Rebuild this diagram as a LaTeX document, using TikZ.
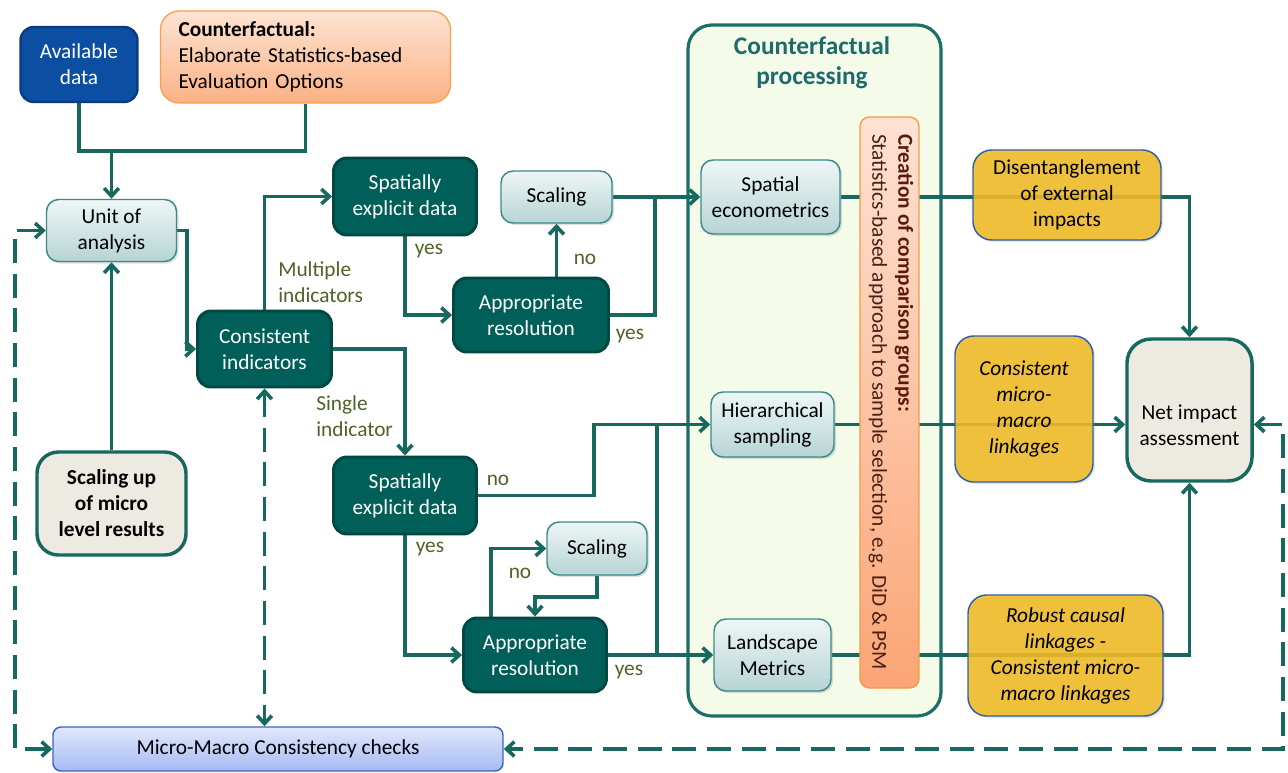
\documentclass[tikz,border=0pt]{standalone}
\usepackage{fontspec}
\setmainfont{Carlito}
\usetikzlibrary{arrows.meta,shadows,backgrounds}
\definecolor{conn}{HTML}{17685F}
\definecolor{dteal}{HTML}{005F59}
\definecolor{dteal2}{HTML}{004842}
\definecolor{availfill}{HTML}{0B4EA2}
\definecolor{availdraw}{HTML}{0A3A80}
\definecolor{cftop}{HTML}{FDE4D2}
\definecolor{cfbot}{HTML}{FBB185}
\definecolor{cfdraw}{HTML}{F7A150}
\definecolor{lttop}{HTML}{EEF6F6}
\definecolor{ltbot}{HTML}{B7D4D4}
\definecolor{ltdraw}{HTML}{3A8A8A}
\definecolor{contfill}{HTML}{F4FBE9}
\definecolor{contdraw}{HTML}{1C6E68}
\definecolor{ybg}{HTML}{EFBB24}
\definecolor{ydraw}{HTML}{2E5FA8}
\definecolor{netfill}{HTML}{EDEBE1}
\definecolor{mmtop}{HTML}{E1E8FC}
\definecolor{mmbot}{HTML}{A6BAF3}
\definecolor{mmdraw}{HTML}{3D63C2}
\definecolor{labgreen}{HTML}{4F6228}
\definecolor{titlecol}{HTML}{1F6B6B}
\definecolor{bartop}{HTML}{FDE2D4}
\definecolor{barbot}{HTML}{FBA575}
\definecolor{bardraw}{HTML}{F59A45}
\definecolor{barred}{HTML}{5B1A0C}
\definecolor{barbrown}{HTML}{4A2016}
\newcommand\myfs{\fontsize{16}{19.5}\selectfont}
\pgfdeclarelayer{bg}
\pgfdeclarelayer{wires}
\pgfsetlayers{bg,wires,main}
\begin{document}
\begin{tikzpicture}[x=0.75pt,y=-0.75pt,
  wh/.style 2 args={minimum width=#1*0.75pt, minimum height=#2*0.75pt},
  base/.style={rounded corners=9pt, inner sep=1pt, align=center, font=\myfs},
  darkbox/.style={base, fill=dteal, draw=dteal2, line width=2.2pt, text=white, rounded corners=10pt},
  lightbox/.style={base, top color=lttop, bottom color=ltbot, draw=ltdraw, line width=1.1pt,
     drop shadow={opacity=0.25, shadow xshift=1.5pt, shadow yshift=-1.5pt}},
  ybox/.style={base, fill=ybg, fill opacity=0.88, text opacity=1, draw=ydraw, line width=1.1pt, rounded corners=14pt,
     drop shadow={opacity=0.2, shadow xshift=1.5pt, shadow yshift=-1.5pt}},
  beigebox/.style={base, fill=netfill, draw=conn, line width=2.6pt, rounded corners=16pt},
  wire/.style={draw=conn, line width=2.7pt},
  conn/.style={wire, -{Straight Barb[length=6pt,width=11pt]}},
  dline/.style={wire, dash pattern=on 18pt off 8pt},
  lab/.style={text=labgreen, font=\myfs, inner sep=0pt, align=left}
]
\useasboundingbox (0,0) rectangle (1288,772);

% container
\begin{pgfonlayer}{bg}
\node[draw=contdraw, fill=contfill, line width=2.4pt, rounded corners=18pt, wh={253}{691}] (cont) at (814.5,370.5) {};
\end{pgfonlayer}
\node[text=titlecol, font=\fontsize{19}{22.5}\selectfont\bfseries, align=center] (ttl) at (812,63) {Counterfactual\\processing};

% top boxes
\node[base, fill=availfill, draw=availdraw, line width=1.8pt, text=white, rounded corners=10pt, wh={117}{75}] (avail) at (79,64.5) {Available\\data};
\node[base, top color=cftop, bottom color=cfbot, draw=cfdraw, line width=1pt, rounded corners=14pt,
      align=left, text width=254*0.75pt, inner xsep=13.5pt, minimum height=92*0.75pt] (cf) at (305.5,57) {\textbf{Counterfactual:}\\Elaborate Statistics-based\\Evaluation Options};

% left column
\node[lightbox, wh={130}{62}] (unit) at (111.5,230.5) {Unit of\\analysis};
\node[beigebox, wh={149}{103}, font=\myfs\bfseries] (sup) at (111.5,503.5) {Scaling up\\of micro\\level results};
\node[darkbox, wh={134}{76}] (cons) at (264.5,349) {Consistent\\indicators};

% upper branch
\node[darkbox, wh={143}{77}] (sed1) at (405,196.5) {Spatially\\explicit data};
\node[lightbox, wh={111}{52}] (scal1) at (556.5,197) {Scaling};
\node[darkbox, wh={155}{74}] (ar1) at (531,315) {Appropriate\\resolution};

% lower branch
\node[darkbox, wh={143}{77}] (sed2) at (405,495.5) {Spatially\\explicit data};
\node[lightbox, wh={100}{53}] (scal2) at (597,548.5) {Scaling};
\node[darkbox, wh={143}{74}] (ar2) at (535,655) {Appropriate\\resolution};

% counterfactual processing boxes
\node[lightbox, wh={139}{74}] (se) at (770.5,197) {Spatial\\econometrics};
\node[lightbox, wh={123}{65}] (hs) at (772.5,424.5) {Hierarchical\\sampling};
\node[lightbox, wh={117}{72}] (lm) at (772.5,655) {Landscape\\Metrics};

% right column
\node[ybox, wh={188}{90}] (dis) at (1067,195) {Disentanglement\\of external\\impacts};
\node[ybox, wh={138}{146}, font=\myfs\itshape] (cmm) at (1024,409) {Consistent\\micro-\\macro\\linkages};
\node[ybox, wh={195}{121}, font=\myfs\itshape] (rcl) at (1065.5,655.5) {Robust causal\\linkages -\\Consistent micro-\\macro linkages};
\node[beigebox, wh={125}{142}, rounded corners=18pt] (net) at (1189.5,410) {};
\node[font=\myfs, align=center] (nettxt) at (1189.5,425) {Net impact\\assessment};

% bottom box
\node[base, top color=mmtop, bottom color=mmbot, draw=mmdraw, line width=1.1pt, rounded corners=6pt, wh={450}{44}] (mm) at (278,749) {Micro-Macro Consistency checks};

% labels
\node[lab, anchor=west] (lmult) at (278,282) {Multiple\\indicators};
\node[lab, anchor=west] (lsing) at (316,416) {Single\\indicator};
\node[lab] (y1) at (429,251) {yes};
\node[lab] (n1) at (585,259) {no};
\node[lab] (y2) at (630,336) {yes};
\node[lab] (n2) at (498,480) {no};
\node[lab] (y3) at (430,549) {yes};
\node[lab] (n3) at (520,573) {no};
\node[lab] (y4) at (629,672) {yes};

% coordinates
\coordinate (j1) at (111.5,151);
\coordinate (c1) at (655,197);
\coordinate (c2) at (594,424.5);
\coordinate (c3) at (491,618);
\coordinate (c4) at (535,597);
\coordinate (c5) at (657,655);
\coordinate (c6) at (657,424.5);
\coordinate (c8) at (1283,424.5);
\coordinate (c9) at (15,230.5);

\begin{pgfonlayer}{wires}
\draw[wire] (avail.south) |- (j1);
\draw[wire] (cf.south) |- (j1);
\draw[conn] (j1) -- (unit.north);
\draw[conn] (unit.east) -- ++(10,0) |- (cons.west);
\draw[conn] (sup.north) -- (unit.south);
\draw[conn] (cons.north) |- (sed1.west);
\draw[conn] (cons.east) -| (sed2.north);
\draw[conn] (sed1.south) |- (ar1.west);
\draw[conn] (scal1.south |- ar1.north) -- (scal1.south);
\draw[wire] (ar1.east) -| (c1);
\draw[conn] (scal1.east) -- (se.west);
\draw[conn] (sed2.east) -| (c2) -- (hs.west);
\draw[conn] (sed2.south) |- (ar2.west);
\draw[conn] (c3) |- (scal2.west);
\draw[conn] (scal2.south) |- (c4) -- (ar2.north);
\draw[conn] (ar2.east) -- (lm.west);
\draw[wire] (c5) -- (c6);
\draw[conn] (se.east) -| (net.north);
\draw[conn] (hs.east) -- (net.west |- hs.east);
\draw[conn] (lm.east) -| (net.south);
\draw[dline, {Straight Barb[length=6pt,width=11pt]}-{Straight Barb[length=6pt,width=11pt]}] (net.east |- hs.east) -- (c8) |- (mm.east);
\draw[dline, {Straight Barb[length=6pt,width=11pt]}-{Straight Barb[length=6pt,width=11pt]}] (unit.west) -- (c9) |- (mm.west);
\draw[dline, {Straight Barb[length=6pt,width=11pt]}-{Straight Barb[length=6pt,width=11pt]}] (cons.south) -- (cons.south |- mm.north);
\end{pgfonlayer}

% orange bar (over wires)
\node[top color=bartop, bottom color=barbot, draw=bardraw, line width=1pt, rounded corners=7pt, wh={59}{571}] (bar) at (889.5,402.5) {};
\node[rotate=-90, align=left, font=\myfs, text=barbrown, inner sep=0pt] (bartxt) at (891,402) {{\color{barred}\bfseries Creation of comparison groups:}\\Statistics-based approach to sample selection, e.g. DiD \& PSM};
\end{tikzpicture}
\end{document}
